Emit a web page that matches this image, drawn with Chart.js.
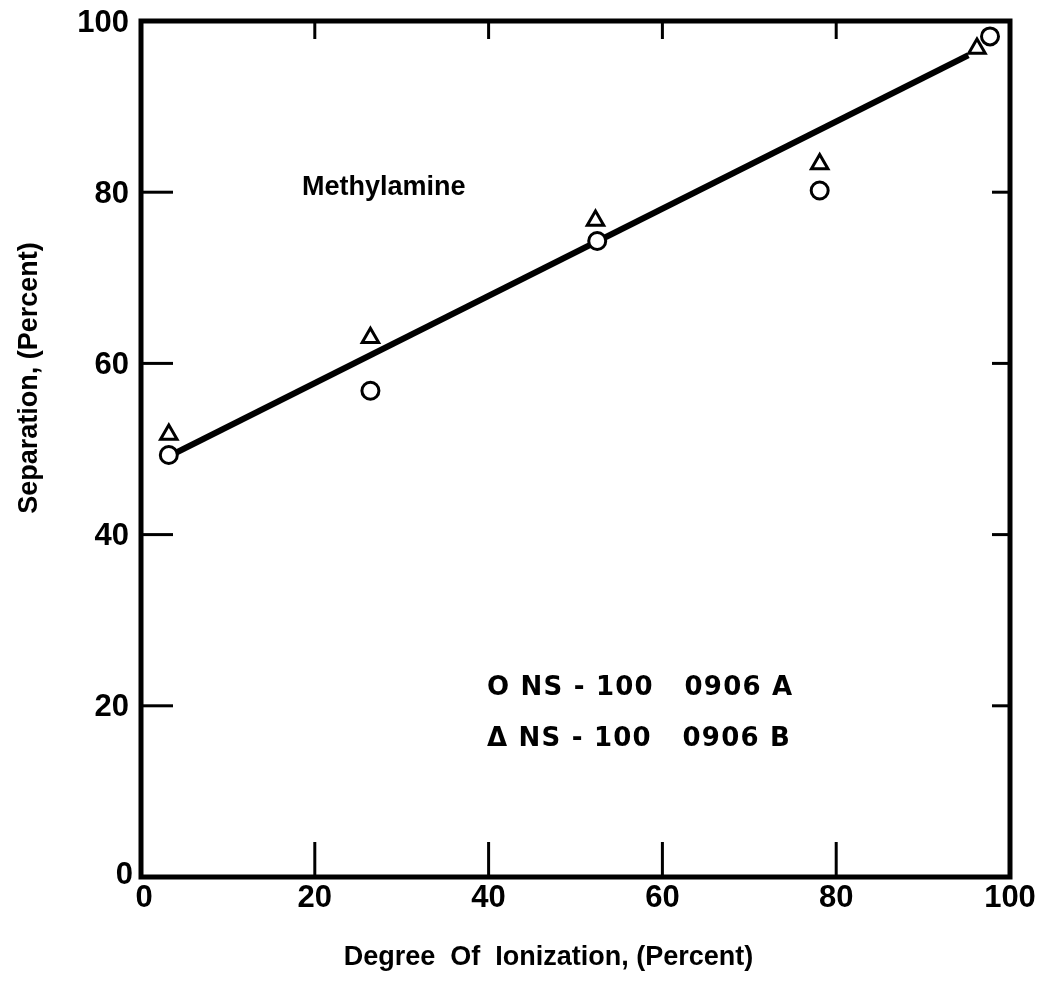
<!DOCTYPE html>
<html>
<head>
<meta charset="utf-8">
<style>
html,body{margin:0;padding:0;background:#fff;}
#wrap{width:1043px;height:988px;position:relative;}
canvas{display:block;}
</style>
<script src="https://cdn.jsdelivr.net/npm/chart.js@4.4.1/dist/chart.umd.min.js"></script>
</head>
<body>
<div id="wrap"><canvas id="c" width="1043" height="988"></canvas></div>
<script>
// ---- data ----
const ionizationA = [3.2, 26.4, 52.5, 78.1, 97.7];
const separationA = [49.3, 56.8, 74.3, 80.2, 98.2];
const ionizationB = [3.2, 26.4, 52.3, 78.1, 96.2];
const separationB = [51.7, 63.0, 76.7, 83.3, 96.8];
const fitX = [3.5, 95.2];
const fitY = [49.3, 96.0];
const xTicks = [0, 20, 40, 60, 80, 100];
const yTicks = [0, 20, 40, 60, 80, 100];
const xTickLabels = ['0', '20', '40', '60', '80', '100'];
const yTickLabels = ['0', '20', '40', '60', '80', '100'];
const seriesNames = ['NS - 100   0906 A', 'NS - 100   0906 B'];
const annotation = 'Methylamine';
const xTitle = 'Degree  Of  Ionization, (Percent)';
const yTitle = 'Separation, (Percent)';

const pts = (xs, ys) => xs.map((x, i) => ({x: x, y: ys[i]}));
const FONT = '"Liberation Sans", Arial, sans-serif';
const WIDE = '"DejaVu Sans", sans-serif';

const framePlugin = {
  id: 'frame',
  afterDatasetsDraw(chart) {
    const ctx = chart.ctx;
    const xs = chart.scales.x, ys = chart.scales.y;
    const L = xs.getPixelForValue(0), R = xs.getPixelForValue(100);
    const T = ys.getPixelForValue(100), B = ys.getPixelForValue(0);
    ctx.save();
    ctx.strokeStyle = '#000';
    ctx.lineCap = 'square';
    ctx.lineWidth = 5;
    ctx.strokeRect(L, T, R - L, B - T);
    // ticks
    ctx.lineWidth = 3;
    ctx.lineCap = 'butt';
    xTicks.forEach(v => {
      if (v === 0 || v === 100) return;
      const px = xs.getPixelForValue(v);
      ctx.beginPath(); ctx.moveTo(px, B); ctx.lineTo(px, B - 35); ctx.stroke();
      ctx.beginPath(); ctx.moveTo(px, T); ctx.lineTo(px, T + 18); ctx.stroke();
    });
    yTicks.forEach(v => {
      if (v === 0 || v === 100) return;
      const py = ys.getPixelForValue(v);
      ctx.beginPath(); ctx.moveTo(L, py); ctx.lineTo(L + 32, py); ctx.stroke();
      ctx.beginPath(); ctx.moveTo(R, py); ctx.lineTo(R - 18, py); ctx.stroke();
    });
    // tick labels
    ctx.fillStyle = '#000';
    ctx.font = 'bold 31px ' + FONT;
    ctx.textAlign = 'center';
    ctx.textBaseline = 'middle';
    xTicks.forEach((v, i) => {
      const px = xs.getPixelForValue(v);
      ctx.fillText(xTickLabels[i], px + (v === 0 ? 3 : 0), B + 21);
    });
    ctx.textAlign = 'right';
    yTicks.forEach((v, i) => {
      const py = ys.getPixelForValue(v);
      const xOff = v === 0 ? 8 : 12;
      ctx.fillText(yTickLabels[i], L - xOff, py + (v === 0 ? -2 : 2));
    });
    // titles
    ctx.font = 'bold 27px ' + FONT;
    ctx.textAlign = 'center';
    ctx.fillText(xTitle, (L + R) / 2 - 27, 958);
    ctx.save();
    ctx.translate(30, 378);
    ctx.rotate(-Math.PI / 2);
    ctx.fillText(yTitle, 0, 0);
    ctx.restore();
    // annotation
    ctx.font = 'bold 27px ' + FONT;
    ctx.textAlign = 'left';
    ctx.fillText(annotation, 302, 188);
    // legend
    ctx.font = 'bold 26px ' + WIDE;
    if ('letterSpacing' in ctx) ctx.letterSpacing = '1.2px';
    ctx.fillText('O ' + seriesNames[0], 487, 688);
    ctx.fillText('\u0394 ' + seriesNames[1], 487, 739);
    ctx.restore();
  }
};

new Chart(document.getElementById('c'), {
  type: 'scatter',
  data: {
    datasets: [
      {
        label: seriesNames[0],
        data: pts(ionizationA, separationA),
        pointStyle: 'circle',
        pointRadius: 8.5,
        borderColor: '#000',
        backgroundColor: '#fff',
        borderWidth: 3,
        order: 1
      },
      {
        label: seriesNames[1],
        data: pts(ionizationB, separationB),
        pointStyle: 'triangle',
        pointRadius: 9.5,
        borderColor: '#000',
        backgroundColor: '#fff',
        borderWidth: 3,
        order: 1
      },
      {
        type: 'line',
        label: 'fit',
        data: pts(fitX, fitY),
        borderColor: '#000',
        borderWidth: 6,
        pointRadius: 0,
        fill: false,
        order: 5
      }
    ]
  },
  plugins: [framePlugin],
  options: {
    responsive: false,
    animation: false,
    devicePixelRatio: 1,
    layout: {padding: {left: 141, top: 21, right: 33, bottom: 111}},
    plugins: {legend: {display: false}, tooltip: {enabled: false}},
    scales: {
      x: {type: 'linear', min: 0, max: 100, display: false},
      y: {type: 'linear', min: 0, max: 100, display: false}
    }
  }
});
</script>
</body>
</html>
